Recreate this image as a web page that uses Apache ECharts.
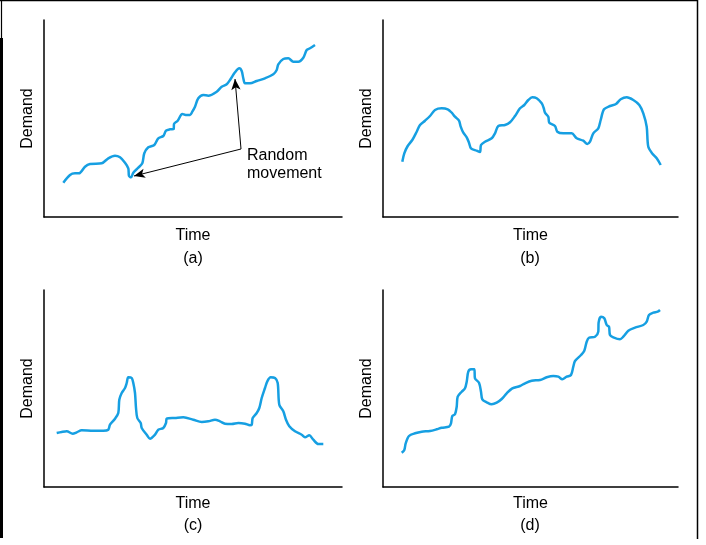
<!DOCTYPE html>
<html>
<head>
<meta charset="utf-8">
<script src="https://cdn.jsdelivr.net/npm/echarts@6/dist/echarts.min.js"></script>
<style>
  html, body { margin: 0; padding: 0; background: #fff; }
  #main { width: 706px; height: 545px; }
</style>
</head>
<body>
<div id="main"></div>
<script>
// demand patterns, values (arbitrary units)
var timeA = [19.3, 26, 31, 35, 41, 46, 57.7, 64.3, 71, 76, 81, 84.3, 85, 87, 89.3, 94.3, 98.3, 100.3, 104.3, 110.3, 114.3, 119.3, 122, 126, 129.7, 130, 133.7, 138.3, 141.7, 146, 148.3, 151, 154.3, 159.3, 164.3, 172.7, 177.7, 182.7, 186, 191, 195.3, 197.7, 199.3, 201, 206, 212.7, 221, 229.3, 232.7, 234.3, 239.3, 244.3, 249.3, 254.3, 259.3, 262.7, 266, 271];
var demandA = [34.3, 42, 43.7, 43.7, 50.3, 53, 53.7, 58.7, 61.3, 59.7, 54.3, 48.7, 41, 39.7, 44.3, 49.3, 53.7, 63.7, 69.7, 72, 78.7, 81, 86.3, 87.7, 88, 93, 96.3, 103, 102, 102, 105.3, 110.3, 118.7, 122, 121.3, 125.3, 130.3, 132.7, 137, 144.7, 148.7, 146, 138.7, 133.7, 133.7, 136, 138.7, 142.7, 147, 152.7, 158, 158.7, 155.3, 155.3, 159.3, 167, 168.7, 172];

var timeB = [19.3, 21.3, 24.7, 29.3, 33.7, 37, 42, 47, 52, 58.7, 64.7, 68.7, 72, 76, 77.7, 80.3, 83.7, 86, 88, 93.7, 97, 98, 102, 108.7, 112, 115.3, 122, 127, 132, 137, 141.3, 145.3, 149.3, 153.7, 158.7, 160.7, 162, 165.3, 166.3, 172, 174.3, 180.3, 188.7, 193.7, 200.3, 204.3, 207, 210.3, 215.3, 217.7, 221, 227, 233, 237.7, 243.7, 250.3, 256.3, 260.3, 263.7, 265.3, 269.7, 273.7, 277.7];
var demandB = [55.3, 63.7, 71, 77, 85.3, 92, 96.3, 101, 107, 108.7, 107.7, 104.3, 100.3, 96.3, 90.3, 84.3, 79.7, 74.3, 68.7, 66.3, 65, 72, 75.3, 78.7, 83.7, 91, 92, 94.7, 101, 108.7, 112, 117, 119.7, 118.7, 113.7, 109, 104.3, 100.3, 94.3, 91, 85.3, 83.7, 83.7, 78.7, 76.3, 73, 75.3, 83.7, 88.7, 97, 107.7, 111, 113, 117.7, 119.7, 117, 112, 103.7, 90.3, 70.3, 63, 58.7, 52];

var timeC = [12.7, 17.7, 22.7, 28.7, 32.7, 37.7, 49.3, 59.3, 64.3, 66, 71, 74.3, 75.3, 77.7, 81, 82.7, 84.3, 87.7, 89.3, 91, 92, 93.3, 96.7, 97.7, 102.7, 106, 111, 114.3, 119.3, 122, 122.7, 131, 139.3, 149.3, 157.7, 164.3, 171, 176, 181, 187.7, 194.3, 201, 206, 207.7, 208.7, 212.7, 215.3, 217.7, 221, 223.3, 226.7, 231, 233.7, 235.3, 239.3, 242, 245.3, 251, 257.7, 261, 265.3, 269.3, 274.3, 279.3];
var demandC = [54, 55, 55.7, 53.3, 54.7, 56.7, 56.3, 56.3, 57.3, 62.3, 68.3, 74, 87.3, 94, 99, 104, 109.7, 109, 104, 94, 79, 69, 64, 59, 52.3, 48.3, 52.3, 57.3, 59, 64, 68.3, 69, 69.7, 67.3, 65, 65.7, 67.3, 65.7, 63.3, 63, 64, 63.3, 61.7, 62.3, 69, 74, 79, 89, 99, 105.7, 109.7, 109, 104, 82.3, 75.7, 67.3, 60.7, 55.7, 52.3, 49.7, 51.7, 47.3, 43, 43];

var timeD = [18.7, 21.3, 22.7, 26, 32, 38.7, 47, 53.7, 58.7, 66, 68, 69.3, 72, 73.7, 74.7, 78.7, 82, 83.7, 85.3, 88, 91.3, 92, 96, 98, 99.3, 103.7, 108.7, 113.7, 118.7, 123.7, 129.3, 137, 142, 148.7, 157, 163.7, 170.3, 175.3, 179.3, 183.7, 188, 190.3, 192, 198, 201.3, 203.7, 206, 212, 215.3, 215.6, 218, 221.3, 223.7, 226, 227, 230.3, 237, 240.3, 245.3, 252, 260.3, 263.7, 266, 270.3, 274.7, 277];
var demandD = [34.3, 37, 43.7, 51, 53.7, 55.3, 56, 57.7, 59.3, 60.3, 63.7, 71, 72.7, 80.3, 90.3, 95.3, 98.7, 105.3, 115.3, 117.7, 117.7, 108.7, 104.3, 95.3, 87.7, 84.7, 82.7, 84.3, 88, 93.7, 98.7, 101, 103.7, 106.3, 107, 109.7, 111, 110.3, 107.7, 110.3, 112, 120.3, 126, 132, 136.3, 145.3, 149.3, 150.3, 155.3, 164.3, 170.3, 168.7, 162, 160.3, 152, 149.7, 147.7, 150.3, 156.3, 159.3, 162, 165.3, 172, 174.3, 175.3, 177];

// arrow from the label to the two random movements in (a)
var arrowFrom = [197, 68];
var arrowTo = [[191, 138], [90, 41]];

var panelNames = ['(a)', '(b)', '(c)', '(d)'];

var font = '"Liberation Sans", Arial, Helvetica, sans-serif';
var blue = '#169fe2';

function zip(xs, ys) {
    var out = [];
    for (var i = 0; i < xs.length; i++) out.push([xs[i], ys[i]]);
    return out;
}

var chart = echarts.init(document.getElementById('main'));

var grids = [
    {left: 44, top: 20, width: 298, height: 197},
    {left: 383, top: 20, width: 295, height: 197},
    {left: 44, top: 290, width: 298, height: 197},
    {left: 383, top: 290, width: 295, height: 197}
];

var xAxes = [], yAxes = [];
grids.forEach(function (g, i) {
    xAxes.push({
        type: 'value', gridIndex: i, min: 0, max: g.width,
        name: 'Time', nameLocation: 'middle', nameGap: i < 2 ? 11 : 9,
        nameTextStyle: {fontFamily: font, fontSize: 16, color: '#000'},
        axisLine: {show: true, lineStyle: {color: '#000', width: 1.5}},
        axisTick: {show: false}, axisLabel: {show: false}, splitLine: {show: false}
    });
    yAxes.push({
        type: 'value', gridIndex: i, min: 0, max: 197,
        name: 'Demand', nameLocation: 'middle', nameGap: 8,
        nameTextStyle: {fontFamily: font, fontSize: 16, color: '#000'},
        axisLine: {show: true, lineStyle: {color: '#000', width: 1.5}},
        axisTick: {show: false}, axisLabel: {show: false}, splitLine: {show: false}
    });
});

function lineSeries(i, xs, ys) {
    return {
        type: 'line', xAxisIndex: i, yAxisIndex: i,
        data: zip(xs, ys), smooth: 0.3, showSymbol: false,
        lineStyle: {color: blue, width: 2.5}
    };
}

var seriesA = lineSeries(0, timeA, demandA);
seriesA.markLine = {
    silent: true, symbol: ['none', 'arrow'], symbolSize: [7, 11],
    label: {show: false},
    lineStyle: {color: '#000', width: 1, type: 'solid'},
    data: arrowTo.map(function (t) { return [{coord: arrowFrom}, {coord: t}]; })
};

var subLabels = [];
var centers = [[193, 259], [530, 259], [193, 526], [530, 526]];
panelNames.forEach(function (n, i) {
    subLabels.push({
        type: 'text', x: centers[i][0], y: centers[i][1],
        style: {text: n, font: '16px ' + font, fill: '#000', textAlign: 'center', textVerticalAlign: 'middle'}
    });
});

var option = {
    animation: false,
    backgroundColor: '#fff',
    grid: grids,
    xAxis: xAxes,
    yAxis: yAxes,
    series: [
        seriesA,
        lineSeries(1, timeB, demandB),
        lineSeries(2, timeC, demandC),
        lineSeries(3, timeD, demandD)
    ],
    graphic: subLabels.concat([
        {type: 'text', x: 247, y: 147, style: {text: 'Random\nmovement', font: '16px ' + font, fill: '#000', lineHeight: 18}},
        // page frame
        {type: 'line', shape: {x1: 0, y1: 0.5, x2: 698, y2: 0.5}, style: {stroke: '#000', lineWidth: 1.5}},
        {type: 'line', shape: {x1: 1.5, y1: 0, x2: 1.5, y2: 538}, style: {stroke: '#000', lineWidth: 1.2}},
        {type: 'rect', shape: {x: 0, y: 38, width: 3, height: 500}, style: {fill: '#000'}},
        {type: 'line', shape: {x1: 697.5, y1: 0, x2: 697.5, y2: 539}, style: {stroke: '#000', lineWidth: 1.5}}
    ])
};

chart.setOption(option);
window.onresize = chart.resize;
</script>
</body>
</html>
